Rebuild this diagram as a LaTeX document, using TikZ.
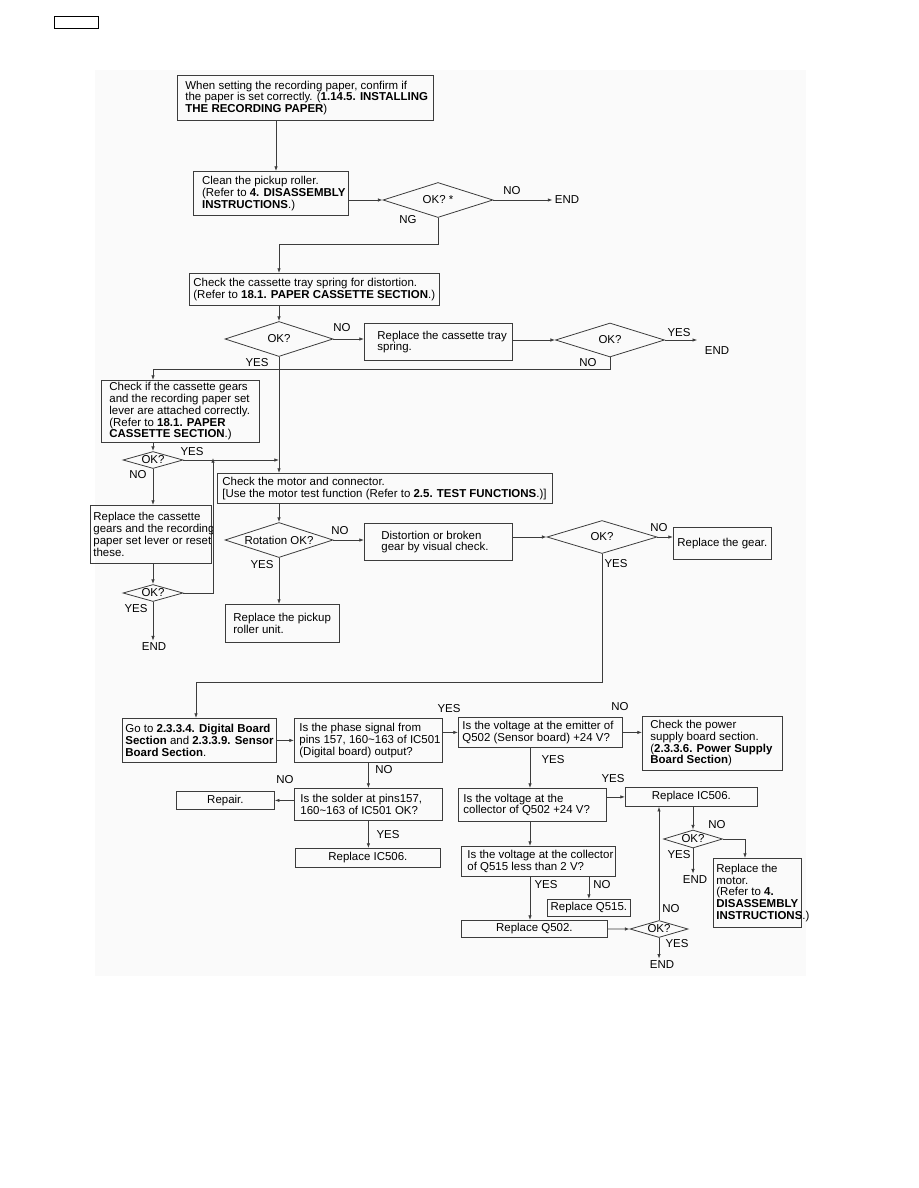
\documentclass[tikz,border=0pt]{standalone}
\usepackage{fontspec}
\setmainfont{Liberation Sans}
\usetikzlibrary{arrows.meta,shapes.geometric}
\definecolor{linegray}{RGB}{60,60,60}
\newcommand\diagfont{\fontsize{8.6}{8.8}\selectfont}
\tikzset{every picture/.style={line width=0.6pt},
  box/.style={draw=linegray, rectangle, anchor=north west, inner sep=0pt, font=\diagfont},
  txt/.style={anchor=west, inner sep=0pt, align=left, font=\diagfont},
  dia/.style={draw=linegray, diamond, inner sep=0pt, font=\diagfont},
  lbl/.style={inner sep=0pt, font=\diagfont},
  endlbl/.style={inner sep=1.5pt, font=\diagfont},
  arr/.style={draw=linegray, -{Latex[length=3.5pt,width=2.6pt]}},
  wire/.style={draw=linegray}
}

\begin{document}
\begin{tikzpicture}[x=0.75pt,y=0.75pt,yscale=-1,xscale=1]
\useasboundingbox (0,0) rectangle (918,1188);

%Shape: faint sheet behind the chart
\fill [black!2] (95,70) rectangle (806,976);
%Shape: page box
\node [box, draw=black, line width=0.8pt, minimum width=33pt, minimum height=9pt] (bPage) at (54,16) {};

%Columns used by the connectors
\coordinate (cA) at (276,0);
\coordinate (cD) at (213,0);
\coordinate (cE) at (196,0);
\coordinate (cF) at (530,0);
\coordinate (cG) at (745,0);

% ---- upper part
\node [box, minimum width=192pt, minimum height=33.75pt] (bPaper) at (177,75) {};
\node [txt] (tPaper) at ([xshift=6pt]bPaper.west) {When setting the recording paper, confirm if\\the paper is set correctly. (\textbf{1.14.5. INSTALLING}\\\textbf{THE RECORDING PAPER})};

\node [box, minimum width=116.25pt, minimum height=33pt] (bClean) at (193,171) {};
\node [txt] (tClean) at ([xshift=6.5pt]bClean.west) {Clean the pickup roller.\\(Refer to \textbf{4. DISASSEMBLY}\\\textbf{INSTRUCTIONS}.)};

\node [dia, minimum width=82.5pt, minimum height=26.25pt, aspect=3.1] (dOk1) at (438,200) {OK? *};
\node [endlbl] (eEnd1) at (567,200) {END};

\node [box, minimum width=187.5pt, minimum height=24pt] (bSpring) at (189,273) {};
\node [txt] (tSpring) at ([xshift=3pt]bSpring.west) {Check the cassette tray spring for distortion.\\(Refer to \textbf{18.1. PAPER CASSETTE SECTION}.)};

\node [dia, minimum width=81pt, minimum height=26.25pt, aspect=3.1] (dOk2) at (279,339) {OK?};

\node [box, minimum width=111pt, minimum height=27.75pt] (bTray) at (364,323) {};
\node [txt] (tTray) at ([xshift=9.75pt]bTray.west) {Replace the cassette tray\\spring.};

\node [dia, minimum width=81.75pt, minimum height=25.5pt, aspect=3.2] (dOk3) at (610,340) {OK?};
\node [endlbl] (eEnd2) at (717,351) {END};

% ---- left branch
\node [box, minimum width=118.5pt, minimum height=46.5pt] (bGears) at (101,380) {};
\node [txt] (tGears) at ([xshift=6pt]bGears.west) {Check if the cassette gears\\and the recording paper set\\lever are attached correctly.\\(Refer to \textbf{18.1. PAPER}\\\textbf{CASSETTE SECTION}.)};

\node [dia, minimum width=45pt, minimum height=12.75pt, aspect=3.5] (dOk4) at (153,460) {OK?};

\node [box, minimum width=90.75pt, minimum height=43.5pt] (bReset) at (90,505) {};
\node [txt] (tReset) at ([xshift=2.25pt]bReset.west) {Replace the cassette\\gears and the recording\\paper set lever or reset\\these.};

\node [dia, minimum width=45pt, minimum height=12.75pt, aspect=3.5] (dOk5) at (153,593) {OK?};
\node [endlbl] (eEnd3) at (154,647) {END};

% ---- motor check
\node [box, minimum width=251.25pt, minimum height=22.5pt] (bMotor) at (217,473) {};
\node [txt] (tMotor) at ([xshift=3.75pt]bMotor.west) {Check the motor and connector.\\{[}Use the motor test function (Refer to \textbf{2.5. TEST FUNCTIONS}.)]};

\node [dia, minimum width=81pt, minimum height=26.25pt, aspect=3.1] (dOk6) at (279,540) {Rotation OK?};

\node [box, minimum width=111pt, minimum height=27.75pt] (bGear) at (364,523) {};
\node [txt] (tGear) at ([xshift=12.75pt]bGear.west) {Distortion or broken\\gear by visual check.};

\node [dia, minimum width=82.5pt, minimum height=24.75pt, aspect=3.3] (dOk7) at (602,537) {OK?};

\node [box, minimum width=73.5pt, minimum height=24pt] (bReplGear) at (673,527) {};
\node [txt] (tReplGear) at ([xshift=3pt]bReplGear.west) {Replace the gear.};

\node [box, minimum width=85.5pt, minimum height=28.5pt] (bPickup) at (225,604) {};
\node [txt] (tPickup) at ([xshift=6pt]bPickup.west) {Replace the pickup\\roller unit.};

% ---- lower part
\node [box, minimum width=115.5pt, minimum height=33pt] (bGoto) at (122,718) {};
\node [txt] (tGoto) at ([xshift=2.25pt]bGoto.west) {Go to \textbf{2.3.3.4. Digital Board}\\\textbf{Section} and \textbf{2.3.3.9. Sensor}\\\textbf{Board Section}.};

\node [box, minimum width=111pt, minimum height=33pt] (bPhase) at (294,718) {};
\node [txt] (tPhase) at ([xshift=3.75pt]bPhase.west) {Is the phase signal from\\pins 157, 160\textasciitilde163 of IC501\\(Digital board) output?};

\node [box, minimum width=123pt, minimum height=22.5pt] (bEmitter) at (458,717) {};
\node [txt] (tEmitter) at ([xshift=3pt]bEmitter.west) {Is the voltage at the emitter of\\Q502 (Sensor board) +24 V?};

\node [box, minimum width=105pt, minimum height=40.5pt] (bPower) at (642,716) {};
\node [txt] (tPower) at ([xshift=6pt]bPower.west) {Check the power\\supply board section.\\(\textbf{2.3.3.6. Power Supply}\\\textbf{Board Section})};

\node [box, minimum width=111pt, minimum height=24pt] (bSolder) at (294,788) {};
\node [txt] (tSolder) at ([xshift=4.5pt]bSolder.west) {Is the solder at pins157,\\160\textasciitilde163 of IC501 OK?};

\node [box, minimum width=73.5pt, minimum height=13.5pt] (bRepair) at (176,791) {Repair.};
\node [box, minimum width=108.75pt, minimum height=14.25pt] (bIcA) at (295,848) {Replace IC506.};

\node [box, minimum width=111pt, minimum height=24.75pt] (bCollector) at (458,788) {};
\node [txt] (tCollector) at ([xshift=3.75pt]bCollector.west) {Is the voltage at the\\collector of Q502 +24 V?};

\node [box, minimum width=99pt, minimum height=14.25pt] (bIcB) at (625,787) {Replace IC506.};

\node [dia, minimum width=44.25pt, minimum height=13.5pt, aspect=3.3] (dOk8) at (693,839) {OK?};
\node [endlbl] (eEnd4) at (695,880) {END};

\node [box, minimum width=66pt, minimum height=51.75pt] (bMotorR) at (713,858) {};
\node [txt] (tMotorR) at ([xshift=2.25pt]bMotorR.west) {Replace the\\motor.\\(Refer to \textbf{4.}\\\textbf{DISASSEMBLY}\\\textbf{INSTRUCTIONS}.)};

\node [box, minimum width=115.5pt, minimum height=22.5pt] (bQ515) at (461,846) {};
\node [txt] (tQ515) at ([xshift=4.5pt]bQ515.west) {Is the voltage at the collector\\of Q515 less than 2 V?};

\node [box, minimum width=62.25pt, minimum height=12.75pt] (bRq515) at (547,899) {Replace Q515.};
\node [box, minimum width=109.5pt, minimum height=12.75pt] (bRq502) at (461,920) {Replace Q502.};

\node [dia, minimum width=43.5pt, minimum height=12.75pt, aspect=3.4] (dOk9) at (659,929) {OK?};
\node [endlbl] (eEnd5) at (662,965) {END};

% ---- connectors
\draw [arr] (bPaper.south -| cA) -- (bClean.north -| cA);
\draw [arr] (bClean.east |- dOk1.west) -- (dOk1.west);
\draw [arr] (dOk1.east) -- (eEnd1.west);
\draw [arr] (dOk1.south) -- ++(0,26) -| (bSpring.north -| dOk2.north);
\draw [arr] (bSpring.south -| dOk2.north) -- (dOk2.north);
\draw [arr] (dOk2.east) -- (bTray.west |- dOk2.east);
\draw [arr] (bTray.east |- dOk3.west) -- (dOk3.west);
\draw [arr] (dOk3.east) -- ([xshift=-4pt]eEnd2.west |- dOk3.east);
\draw [arr] (dOk3.south) -- ++(0,12) -| (bGears.north -| dOk4.north);
\draw [arr] (dOk2.south) -- (bMotor.north -| dOk2.south);
\draw [arr] (bGears.south -| dOk4.north) -- (dOk4.north);
\draw [arr] (dOk4.east) -- (dOk4.east -| dOk2.south);
\draw [arr] (dOk4.south) -- (bReset.north -| dOk4.south);
\draw [arr] (bReset.south -| dOk5.north) -- (dOk5.north);
\draw [arr] (dOk5.east) -| ([yshift=-1.5pt]cD |- dOk4.east);
\draw [arr] (dOk5.south) -- (dOk5.south |- eEnd3.north);
\draw [arr] (bMotor.south -| dOk6.north) -- (dOk6.north);
\draw [arr] (dOk6.east) -- (bGear.west |- dOk6.east);
\draw [arr] (dOk6.south) -- (bPickup.north -| dOk6.south);
\draw [arr] (bGear.east |- dOk7.west) -- (dOk7.west);
\draw [arr] (dOk7.east) -- (bReplGear.west |- dOk7.east);
\draw [arr] (dOk7.south) -- ++(0,128) -| (bGoto.north -| cE);
\draw [arr] (bGoto.east) -- (bPhase.west);
\draw [arr] (bPhase.east |- bEmitter.west) -- (bEmitter.west);
\draw [arr] (bEmitter.east) -- (bPower.west |- bEmitter.east);
\draw [arr] (bPhase.south) -- (bSolder.north);
\draw [arr] (bSolder.west |- bRepair.east) -- (bRepair.east);
\draw [arr] (bSolder.south) -- (bIcA.north -| bSolder.south);
\draw [arr] (bEmitter.south -| cF) -- (bCollector.north -| cF);
\draw [arr] (bCollector.east |- bIcB.west) -- (bIcB.west);
\draw [arr] (bIcB.south -| dOk8.north) -- (dOk8.north);
\draw [arr] (dOk8.east) -| (bMotorR.north -| cG);
\draw [arr] (dOk8.south) -- (dOk8.south |- eEnd4.north);
\draw [arr] (bCollector.south -| cF) -- (bQ515.north -| cF);
\draw [arr] (bQ515.south -| cF) -- (bRq502.north -| cF);
\draw [arr] (bQ515.south -| bRq515.north) -- (bRq515.north);
\draw [arr] (bRq502.east) -- (dOk9.west);
\draw [arr] (dOk9.north) -- (bIcB.south -| dOk9.north);
\draw [arr] (dOk9.south) -- (dOk9.south |- eEnd5.north);

% Text Node: branch labels
\node [lbl] (lNo1) at (512,191) {NO};
\node [lbl] (lNg1) at (408,220) {NG};
\node [lbl] (lNo2) at (342,328) {NO};
\node [lbl] (lYes2) at (257,363) {YES};
\node [lbl] (lYes3) at (679,333) {YES};
\node [lbl] (lNo3) at (588,363) {NO};
\node [lbl] (lYes4) at (192,452) {YES};
\node [lbl] (lNo4) at (138,475) {NO};
\node [lbl] (lYes5) at (136,609) {YES};
\node [lbl] (lNo6) at (340,531) {NO};
\node [lbl] (lYes6) at (262,565) {YES};
\node [lbl] (lNo7) at (659,528) {NO};
\node [lbl] (lYes7) at (616,564) {YES};
\node [lbl] (lYesPh) at (449,709) {YES};
\node [lbl] (lNoEm) at (620,707) {NO};
\node [lbl] (lNoPh) at (384,770) {NO};
\node [lbl] (lNoSo) at (285,780) {NO};
\node [lbl] (lYesSo) at (388,835) {YES};
\node [lbl] (lYesEm) at (553,760) {YES};
\node [lbl] (lYesCo) at (613,779) {YES};
\node [lbl] (lNo8) at (717,825) {NO};
\node [lbl] (lYes8) at (679,855) {YES};
\node [lbl] (lYesQ) at (546,885) {YES};
\node [lbl] (lNoQ) at (602,885) {NO};
\node [lbl] (lNo9) at (671,909) {NO};
\node [lbl] (lYes9) at (677,944) {YES};

\end{tikzpicture}
\end{document}
